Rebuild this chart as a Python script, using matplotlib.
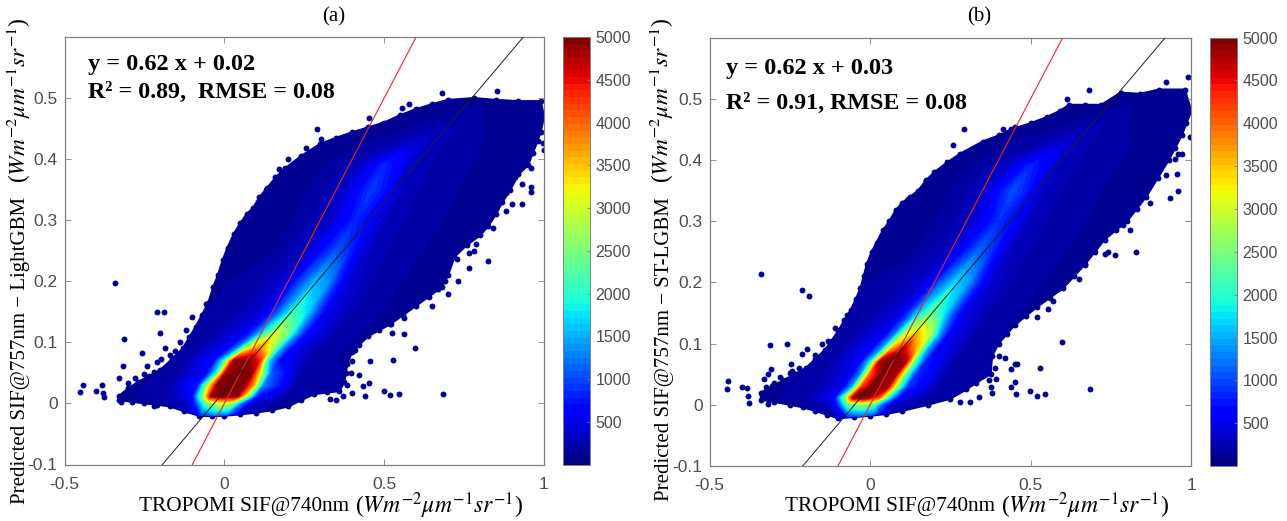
import numpy as np
import matplotlib
matplotlib.use('Agg')
import matplotlib.pyplot as plt
from matplotlib.patches import Polygon
from matplotlib.cm import ScalarMappable
from matplotlib.colors import Normalize

# cloud outline (x, y)
edge_a = [(-0.33, 0.012), (-0.3, 0.025), (-0.27, 0.035), (-0.235, 0.045), (-0.2, 0.055), (-0.165, 0.072),
          (-0.13, 0.09), (-0.11, 0.108), (-0.09, 0.125), (-0.07, 0.145), (-0.05, 0.165), (-0.035, 0.19),
          (-0.02, 0.21), (-0.005, 0.235), (0.01, 0.255), (0.03, 0.278), (0.05, 0.295), (0.07, 0.31),
          (0.09, 0.32), (0.11, 0.338), (0.13, 0.35), (0.16, 0.37), (0.19, 0.385), (0.24, 0.405), (0.3, 0.425),
          (0.35, 0.435), (0.4, 0.444), (0.45, 0.452), (0.5, 0.46), (0.55, 0.472), (0.6, 0.482), (0.65, 0.49),
          (0.7, 0.497), (0.78, 0.5), (0.85, 0.497), (0.92, 0.495), (0.99, 0.495), (1.0, 0.47), (0.99, 0.445),
          (0.98, 0.43), (0.965, 0.41), (0.95, 0.39), (0.92, 0.375), (0.895, 0.35), (0.87, 0.33), (0.85, 0.31),
          (0.825, 0.29), (0.8, 0.275), (0.76, 0.26), (0.72, 0.24), (0.7, 0.21), (0.68, 0.19), (0.64, 0.175),
          (0.6, 0.16), (0.56, 0.145), (0.52, 0.13), (0.485, 0.12), (0.45, 0.11), (0.42, 0.095), (0.4, 0.085),
          (0.385, 0.065), (0.38, 0.05), (0.375, 0.035), (0.36, 0.02), (0.32, 0.018), (0.28, 0.015), (0.24, 0.005),
          (0.2, -0.005), (0.15, -0.011), (0.1, -0.015), (0.05, -0.018), (0.0, -0.02), (-0.04, -0.021),
          (-0.08, -0.02), (-0.125, -0.013), (-0.17, -0.005), (-0.21, -0.002), (-0.25, 0.0), (-0.29, 0.003),
          (-0.33, 0.005)]
edge_b = [(-0.34, 0.02), (-0.305, 0.03), (-0.27, 0.04), (-0.235, 0.05), (-0.2, 0.06), (-0.17, 0.075),
          (-0.14, 0.09), (-0.12, 0.105), (-0.1, 0.12), (-0.08, 0.138), (-0.06, 0.155), (-0.045, 0.172),
          (-0.03, 0.19), (-0.02, 0.21), (-0.01, 0.23), (0.005, 0.25), (0.02, 0.265), (0.04, 0.285), (0.06, 0.3),
          (0.08, 0.318), (0.1, 0.33), (0.125, 0.34), (0.15, 0.35), (0.175, 0.367), (0.2, 0.38), (0.24, 0.396),
          (0.28, 0.41), (0.35, 0.43), (0.4, 0.44), (0.44, 0.45), (0.5, 0.46), (0.55, 0.47), (0.59, 0.48),
          (0.62, 0.49), (0.67, 0.49), (0.72, 0.49), (0.78, 0.51), (0.84, 0.508), (0.9, 0.515), (0.98, 0.515),
          (1.0, 0.48), (0.985, 0.46), (0.97, 0.44), (0.95, 0.42), (0.93, 0.4), (0.895, 0.37), (0.86, 0.34),
          (0.83, 0.32), (0.8, 0.3), (0.765, 0.285), (0.73, 0.27), (0.7, 0.25), (0.67, 0.23), (0.635, 0.21),
          (0.6, 0.19), (0.56, 0.175), (0.52, 0.16), (0.485, 0.145), (0.45, 0.13), (0.425, 0.115), (0.4, 0.1),
          (0.38, 0.08), (0.375, 0.05), (0.33, 0.036), (0.3, 0.025), (0.25, 0.01), (0.18, 0.0), (0.1, -0.01),
          (0.05, -0.015), (0.0, -0.018), (-0.05, -0.02), (-0.1, -0.022), (-0.135, -0.016), (-0.17, -0.01),
          (-0.21, -0.004), (-0.25, 0.0), (-0.3, 0.005), (-0.34, 0.008)]

# isolated points
points_a = [(-0.45, 0.019), (-0.443, 0.03), (-0.4, 0.02), (-0.383, 0.03), (-0.379, 0.017), (-0.377, 0.011),
            (-0.341, 0.198), (-0.328, 0.041), (-0.318, 0.061), (-0.313, 0.105), (-0.259, 0.082), (-0.211, 0.15),
            (-0.188, 0.149), (-0.2, 0.116), (-0.185, 0.091), (-0.243, 0.062), (-0.211, 0.068), (-0.198, 0.073),
            (-0.186, 0.056), (-0.153, 0.086), (-0.22, -0.004), (-0.322, 0.003), (0.685, 0.016), (0.595, 0.09),
            (0.527, 0.071), (0.498, 0.02), (0.517, 0.013), (0.545, 0.015), (0.455, 0.07), (0.453, 0.034),
            (0.421, 0.046), (0.4, 0.017), (0.434, 0.028), (0.44, 0.012), (0.524, 0.116), (0.562, 0.113),
            (0.517, 0.13), (0.562, 0.14), (0.73, 0.2), (0.69, 0.2), (0.668, 0.188), (0.728, 0.236), (0.764, 0.247),
            (0.76, 0.263), (0.788, 0.261), (0.826, 0.233), (0.764, 0.221), (0.9, 0.326), (0.932, 0.326),
            (0.958, 0.354), (0.96, 0.346), (0.996, 0.426), (0.999, 0.415), (0.945, 0.395), (0.91, 0.37),
            (0.881, 0.345), (0.681, 0.509), (0.853, 0.512), (0.579, 0.49), (0.556, 0.484), (0.451, 0.467),
            (0.494, 0.458), (0.443, 0.45), (0.291, 0.449), (0.303, 0.433), (0.255, 0.419), (0.198, 0.4),
            (0.172, 0.384), (0.115, 0.334), (0.134, 0.352), (-0.057, 0.163), (0.236, 0.396),
            (0.385, 0.03), (0.395, 0.05), (0.4, 0.07), (0.41, 0.088), (0.37, 0.012), (0.35, 0.006), (0.33, 0.008),
            (-0.3, 0.033), (-0.28, 0.042), (-0.25, 0.048), (-0.22, 0.052), (-0.17, 0.08), (-0.14, 0.1),
            (-0.12, 0.12), (-0.1, 0.142), (0.96, 0.385), (0.93, 0.36), (0.88, 0.315), (0.84, 0.288),
            (0.78, 0.25), (0.7, 0.18), (0.65, 0.16)]
points_b = [(-0.447, 0.026), (-0.443, 0.039), (-0.398, 0.029), (-0.384, 0.028), (-0.379, 0.014), (-0.376, 0.003),
            (-0.34, 0.213), (-0.329, 0.042), (-0.324, 0.029), (-0.318, 0.002), (-0.318, 0.051), (-0.307, 0.059),
            (-0.313, 0.097), (-0.258, 0.099), (-0.211, 0.188), (-0.189, 0.177), (-0.212, 0.083), (-0.196, 0.091),
            (-0.247, 0.067), (-0.244, 0.056), (-0.15, 0.1), (-0.163, 0.077), (-0.092, 0.123), (0.684, 0.026),
            (0.597, 0.102), (0.529, 0.06), (0.498, 0.023), (0.52, 0.014), (0.546, 0.017), (0.451, 0.067),
            (0.456, 0.066), (0.439, 0.058), (0.421, 0.077), (0.451, 0.037), (0.44, 0.029), (0.453, 0.017),
            (0.393, 0.042), (0.37, 0.04), (0.376, 0.029), (0.521, 0.143), (0.555, 0.156), (0.569, 0.17),
            (0.586, 0.192), (0.828, 0.249), (0.764, 0.244), (0.732, 0.246), (0.669, 0.229), (0.762, 0.293),
            (0.787, 0.293), (0.723, 0.275), (0.935, 0.338), (0.958, 0.35), (0.955, 0.377), (0.948, 0.402),
            (0.97, 0.409), (0.997, 0.437), (0.989, 0.535), (0.922, 0.527), (0.681, 0.515), (0.614, 0.499),
            (0.451, 0.454), (0.415, 0.45), (0.293, 0.45), (0.257, 0.424), (0.216, 0.382), (0.173, 0.366),
            (0.119, 0.336), (-0.041, 0.168), (-0.073, 0.146),
            (0.39, 0.06), (0.4, 0.08), (0.38, 0.02), (0.34, 0.012), (0.31, 0.005), (0.28, 0.005),
            (-0.3, 0.036), (-0.28, 0.046), (-0.25, 0.052), (-0.22, 0.06), (-0.17, 0.082), (-0.13, 0.105),
            (-0.11, 0.125), (0.96, 0.41), (0.92, 0.375), (0.87, 0.33), (0.81, 0.285), (0.74, 0.25), (0.65, 0.205)]

# density table: one row per y level, columns are x offsets from the ridge
ridge_y = [-0.03, 0.0, 0.012, 0.03, 0.05, 0.07, 0.09, 0.115, 0.15, 0.2, 0.25, 0.3, 0.35, 0.39, 0.43, 0.47, 0.53]
offsets = [-0.6, -0.2, -0.1, -0.07, -0.04, 0.0, 0.04, 0.07, 0.1, 0.2, 0.6]

ridge_x_a = [-0.04, -0.02, 0.0, 0.02, 0.045, 0.07, 0.11, 0.16, 0.22, 0.285, 0.35, 0.41, 0.46, 0.5, 0.6, 0.75, 0.9]
density_a = [
    [100, 100, 100, 100, 120, 140, 120, 100, 100, 100, 100],
    [100, 140, 300, 800, 2200, 3000, 2800, 1300, 400, 140, 100],
    [100, 170, 600, 2400, 4900, 5000, 4900, 2800, 800, 170, 100],
    [100, 170, 800, 3000, 5000, 5000, 5000, 3800, 1300, 200, 100],
    [100, 170, 600, 1800, 4800, 5000, 4900, 3000, 1100, 200, 100],
    [100, 190, 700, 2000, 4800, 5000, 4400, 1600, 700, 170, 100],
    [100, 190, 600, 1300, 3000, 3900, 2800, 1300, 600, 170, 100],
    [100, 190, 500, 900, 1800, 3000, 2400, 1300, 600, 170, 100],
    [100, 170, 420, 750, 1300, 2100, 1700, 1000, 520, 170, 100],
    [100, 170, 370, 650, 1050, 1550, 1350, 800, 430, 170, 100],
    [100, 150, 310, 480, 720, 1050, 820, 520, 320, 170, 100],
    [100, 150, 280, 400, 560, 800, 640, 440, 300, 170, 100],
    [100, 150, 300, 430, 640, 920, 720, 460, 300, 170, 100],
    [100, 140, 270, 380, 540, 820, 620, 420, 290, 170, 100],
    [100, 130, 180, 220, 280, 350, 310, 260, 220, 160, 100],
    [100, 110, 130, 150, 170, 190, 170, 150, 130, 110, 100],
    [100, 100, 100, 100, 100, 100, 100, 100, 100, 100, 100],
]

ridge_x_b = [-0.03, -0.03, -0.01, 0.015, 0.04, 0.07, 0.105, 0.145, 0.19, 0.265, 0.335, 0.4, 0.445, 0.5, 0.6, 0.75, 0.9]
density_b = [
    [100, 100, 100, 100, 120, 150, 120, 100, 100, 100, 100],
    [100, 140, 260, 800, 2200, 2600, 2200, 1000, 320, 140, 100],
    [100, 170, 600, 2400, 5000, 5000, 4000, 1800, 600, 170, 100],
    [100, 170, 500, 1400, 4200, 5000, 4800, 2600, 900, 200, 100],
    [100, 170, 500, 1300, 4000, 5000, 4800, 2400, 900, 200, 100],
    [100, 190, 600, 1800, 4800, 5000, 4800, 2200, 800, 180, 100],
    [100, 190, 650, 1500, 3700, 4700, 3500, 1500, 650, 180, 100],
    [100, 190, 560, 1200, 2800, 3600, 2900, 1400, 560, 170, 100],
    [100, 170, 420, 850, 1600, 2400, 1800, 1000, 500, 170, 100],
    [100, 170, 370, 650, 1150, 1700, 1400, 850, 430, 170, 100],
    [100, 150, 310, 480, 750, 1150, 880, 540, 320, 170, 100],
    [100, 150, 280, 420, 600, 850, 680, 470, 300, 170, 100],
    [100, 150, 300, 460, 700, 1020, 780, 490, 300, 170, 100],
    [100, 140, 270, 380, 540, 820, 620, 420, 290, 170, 100],
    [100, 130, 180, 220, 280, 350, 310, 260, 220, 160, 100],
    [100, 110, 130, 150, 170, 190, 170, 150, 130, 110, 100],
    [100, 100, 100, 100, 100, 100, 100, 100, 100, 100, 100],
]

fit_a = (0.62, 0.02)
fit_b = (0.62, 0.03)
x_ticks = [-0.5, 0, 0.5, 1]
x_tick_labels = ['-0.5', '0', '0.5', '1']
y_ticks = [-0.1, 0, 0.1, 0.2, 0.3, 0.4, 0.5]
y_tick_labels = ['-0.1', '0', '0.1', '0.2', '0.3', '0.4', '0.5']
cbar_ticks = [500, 1000, 1500, 2000, 2500, 3000, 3500, 4000, 4500, 5000]

W, H = 1287, 521
UNITS = r'$Wm^{-2}\mu m^{-1}sr^{-1}$'
GREY = '#4d4d4d'
SPINE = '#808080'
cmap = plt.get_cmap('jet', 64)
norm = Normalize(1, 5000)
base_color = cmap(norm(100))

plt.rcParams['font.family'] = 'Liberation Serif'
plt.rcParams['mathtext.fontset'] = 'stix'

fig = plt.figure(figsize=(W / 100, H / 100), dpi=100)


def box(left, top, right, bottom):
    return [left / W, (H - bottom) / H, (right - left) / W, (bottom - top) / H]


def draw_panel(frame, cbar_left, title, title_x, edge, points, ridge_x, density, fit, text1, text2, text_x, text_y,
               ylabel, label_x, ylabel_x):
    left, top, right, bottom = frame
    ax = fig.add_axes(box(left, top, right, bottom))
    ax.set_xlim(-0.5, 1)
    ax.set_ylim(-0.1, 0.6)

    ex, ey = zip(*edge)
    cloud = Polygon(edge, closed=True, facecolor=base_color, edgecolor=base_color, linewidth=1.5, zorder=1)
    ax.add_patch(cloud)
    ax.scatter(ex, ey, s=18, color=base_color, linewidths=0, zorder=1)
    px, py = zip(*points)
    ax.scatter(px, py, s=18, color=base_color, linewidths=0, zorder=1)

    X = np.array(ridge_x)[:, None] + np.array(offsets)
    Y = np.repeat(np.array(ridge_y)[:, None], len(offsets), axis=1)
    cs = ax.contourf(X, Y, np.array(density), levels=np.linspace(1, 5000, 65), cmap=cmap, norm=norm,
                     extend='both', zorder=2, antialiased=False)
    cs.set_clip_path(cloud)

    ax.plot([-0.1, 0.6], [-0.1, 0.6], color='#e8262a', linewidth=0.8, zorder=3)
    xs = np.array([-0.5, 1.0])
    ax.plot(xs, fit[0] * xs + fit[1], color='#202020', linewidth=0.7, zorder=3)

    ax.set_xticks(x_ticks, x_tick_labels, family='Liberation Sans', fontsize=12.5, color=GREY)
    ax.set_yticks(y_ticks, y_tick_labels, family='Liberation Sans', fontsize=12.5, color=GREY)
    ax.tick_params(direction='in', length=4, width=0.6, color=SPINE, top=True, right=True)
    ax.tick_params(axis='x', pad=9)
    ax.tick_params(axis='y', pad=5)
    for s in ax.spines.values():
        s.set_linewidth(0.9)
        s.set_color(SPINE)

    fig.text(title_x / W, (H - 17) / H, title, ha='center', va='center', fontsize=15)
    fig.text(label_x / W, (H - 506) / H, 'TROPOMI SIF@740nm', ha='right', va='center', fontsize=15.3)
    fig.text((label_x + 6) / W, (H - 506) / H, '(' + UNITS + ')', ha='left', va='center', fontsize=17)
    fig.text(ylabel_x / W, (H - 197) / H, ylabel, rotation=90, ha='center', va='top', fontsize=15)
    fig.text((ylabel_x - 2) / W, (H - 183) / H, '(' + UNITS + ')', rotation=90, ha='center', va='bottom', fontsize=16.8)
    ax.text(text_x[0], text_y[0], text1, fontsize=17.5, fontweight='bold', va='center', zorder=4)
    ax.text(text_x[1], text_y[1], text2, fontsize=17.3, fontweight='bold', va='center', zorder=4)

    cax = fig.add_axes(box(cbar_left, top, cbar_left + 27, bottom))
    cb = fig.colorbar(ScalarMappable(norm=norm, cmap=cmap), cax=cax, ticks=cbar_ticks)
    cb.ax.tick_params(direction='in', length=2.5, width=0.6, color=SPINE, pad=4)
    cb.outline.set_linewidth(0.7)
    cb.outline.set_edgecolor(SPINE)
    for t in cb.ax.get_yticklabels():
        t.set_family('Liberation Sans')
        t.set_fontsize(11.5)
        t.set_color(GREY)


draw_panel((64.5, 37, 544, 464.5), 563, '(a)', 334, edge_a, points_a, ridge_x_a, density_a, fit_a,
           'y = 0.62 x + 0.02', 'R\u00b2 = 0.89,  RMSE = 0.08',
           (-0.427, -0.427), (0.555, 0.51), 'Predicted SIF@757nm \u2212 LightGBM', 349, 21)
draw_panel((709.5, 37.5, 1191.3, 466), 1210, '(b)', 979, edge_b, points_b, ridge_x_b, density_b, fit_b,
           'y = 0.62 x + 0.03', 'R\u00b2 = 0.91, RMSE = 0.08',
           (-0.45, -0.45), (0.55, 0.493), 'Predicted SIF@757nm \u2212 ST-LGBM', 995, 664)

fig.savefig('out.png', dpi=100)
